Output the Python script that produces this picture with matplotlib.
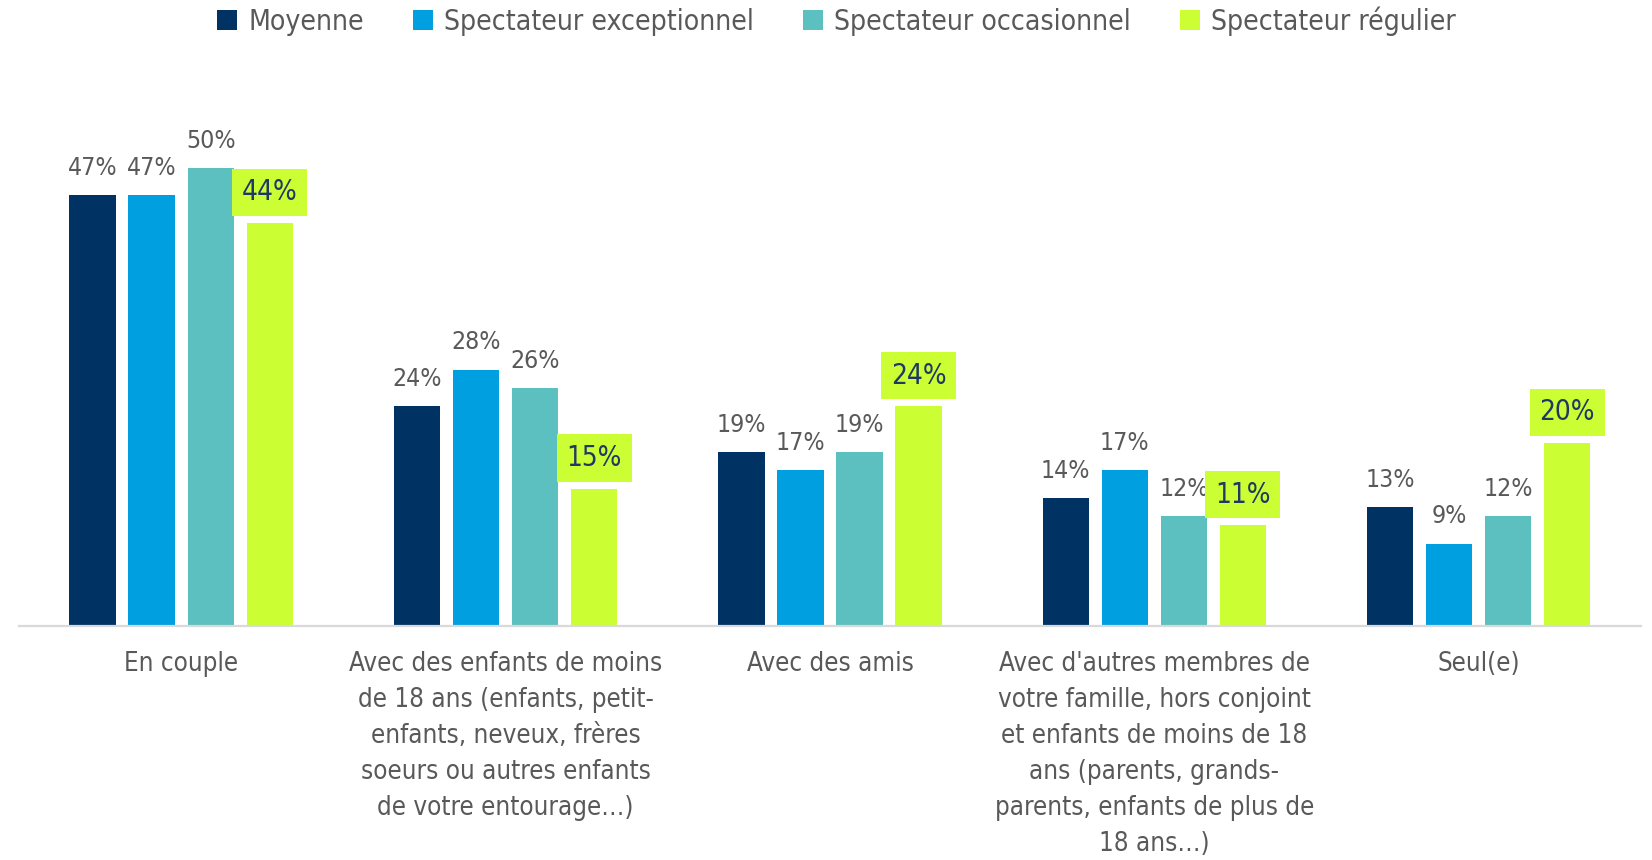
import numpy as np
import matplotlib
matplotlib.use('Agg')
import matplotlib.pyplot as plt
from matplotlib.patches import Patch

plt.rcParams['font.family'] = ['DejaVu Sans']
plt.rcParams['font.stretch'] = 'condensed'

# données
categories = [
    "En couple",
    "Avec des enfants de moins\nde 18 ans (enfants, petit-\nenfants, neveux, frères\nsoeurs ou autres enfants\nde votre entourage…)",
    "Avec des amis",
    "Avec d'autres membres de\nvotre famille, hors conjoint\net enfants de moins de 18\nans (parents, grands-\nparents, enfants de plus de\n18 ans…)",
    "Seul(e)",
]
series_names = ["Moyenne", "Spectateur exceptionnel", "Spectateur occasionnel", "Spectateur régulier"]
moyenne = [47, 24, 19, 14, 13]
exceptionnel = [47, 28, 17, 17, 9]
occasionnel = [50, 26, 19, 12, 12]
regulier = [44, 15, 24, 11, 20]
values = [moyenne, exceptionnel, occasionnel, regulier]

colors = ['#003363', '#009FE0', '#5CBFC0', '#CCFF33']
text_grey = '#595959'

fig = plt.figure(figsize=(16.52, 8.60), dpi=100)
ax = fig.add_axes([0.0115, 0.272, 0.9818, 0.586])

x = np.arange(len(categories))
pitch = 0.182
width = 0.143
offsets = (np.arange(4) - 1.5) * pitch

for k in range(4):
    ax.bar(x + offsets[k], values[k], width=width, color=colors[k], zorder=2)
    for i, v in enumerate(values[k]):
        if k == 3:
            # étiquette encadrée pour les spectateurs réguliers
            ax.annotate(f"{v}%", xy=(x[i] + offsets[k], v), xytext=(0, 22),
                        textcoords='offset points', ha='center', va='center',
                        fontsize=20, color='#1F3864',
                        bbox=dict(facecolor=colors[3], edgecolor='none', pad=7))
        else:
            ax.annotate(f"{v}%", xy=(x[i] + offsets[k], v), xytext=(0, 11),
                        textcoords='offset points', ha='center', va='bottom',
                        fontsize=17.8, color=text_grey)

ax.set_xlim(-0.5, 4.5)
ax.set_ylim(0, 55)
ax.set_xticks(x)
ax.set_xticklabels(categories, fontsize=18.6, color=text_grey, linespacing=1.5, va='top')
ax.tick_params(axis='x', length=0, pad=18)
ax.set_yticks([])
for s in ['top', 'right', 'left']:
    ax.spines[s].set_visible(False)
ax.spines['bottom'].set_color('#D9D9D9')
ax.spines['bottom'].set_linewidth(1.6)

handles = [Patch(facecolor=c, edgecolor='none') for c in colors]
fig.legend(handles, series_names, loc='upper center', bbox_to_anchor=(0.5064, 1.022),
           ncol=4, frameon=False, fontsize=20.3, labelcolor=text_grey,
           handlelength=0.7, handleheight=0.7, handletextpad=0.4, columnspacing=1.75)

plt.savefig("out.png", dpi=100)
